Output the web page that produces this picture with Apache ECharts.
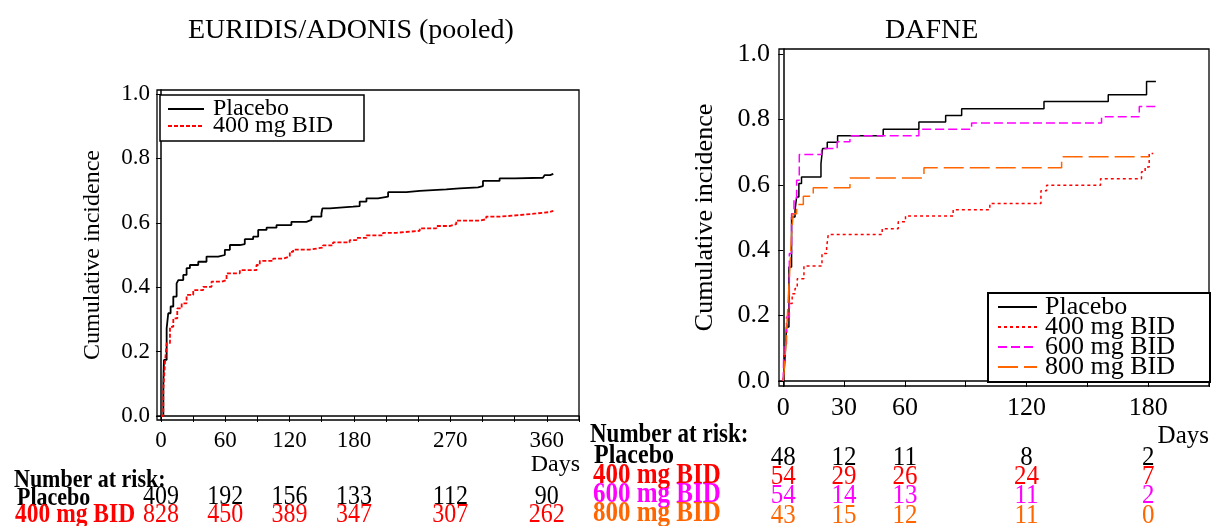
<!DOCTYPE html>
<html><head><meta charset="utf-8">
<script src="https://cdn.jsdelivr.net/npm/echarts@6/dist/echarts.min.js"></script>
<style>html,body{margin:0;padding:0;background:#fff}#c{width:1211px;height:526px}</style>
</head><body><div id="c"></div>
<script>
const FONT = '"Liberation Serif", "Times New Roman", serif';
const RED = '#ff0000', MAG = '#ff00ff', ORA = '#ff6600', BLK = '#000000';

// ---------- EURIDIS/ADONIS (pooled) ----------
const euPlaceboT = [0,2.2,2.8,5.3,6.8,9.0,11.5,14.6,16.2,20.8,23.9,27,34.8,42.5,53.4,59.6,64.3,73.6,78.2,86,90.7,98.5,107.8,121.7,135.7,140.4,149.7,150.6,157.5,179.2,185.4,191.7,202.5,211.9,229,241.4,266.2,278.6,295.8,300.4,315.9,329.9,356.3,357.9,363,366];
const euPlaceboV = [0,0.107,0.174,0.272,0.319,0.340,0.371,0.412,0.422,0.438,0.459,0.469,0.479,0.495,0.500,0.516,0.531,0.534,0.549,0.557,0.578,0.585,0.593,0.603,0.609,0.619,0.629,0.645,0.650,0.652,0.666,0.676,0.681,0.695,0.699,0.704,0.707,0.710,0.714,0.730,0.738,0.740,0.741,0.748,0.752,0.752];
const eu400T = [0,2.2,3.7,5.3,8.4,11.5,15.2,19.3,23.9,30.1,39.4,47.2,56.5,61.2,73.6,89.1,92.2,104.7,114,120.2,123.3,138.8,151.2,160.5,176,182.3,191.7,207.2,219.6,241.4,256.9,269.3,275.5,297.2,303.4,315.9,334.5,350,362,366];
const eu400V = [0,0.081,0.164,0.226,0.277,0.303,0.334,0.350,0.376,0.391,0.401,0.417,0.422,0.443,0.453,0.469,0.482,0.489,0.495,0.510,0.517,0.523,0.530,0.539,0.546,0.553,0.561,0.569,0.575,0.583,0.590,0.596,0.607,0.611,0.619,0.624,0.629,0.633,0.637,0.637];
const euTickDays = [0,30,60,90,120,150,180,210,240,270,300,330,360,390];
const euLabelDays = [0,60,120,180,270,360];
const euRiskDays = [0,60,120,180,270,360];
const euRiskPlacebo = [409,192,156,133,112,90];
const euRisk400 = [828,450,389,347,307,262];

// ---------- DAFNE ----------
const daPlaceboT = [0,0.8,1.6,2.8,4.1,5.8,6.6,7.7,9.0,18.6,19.4,21.7,26.8,49.3,66.9,80.1,88,128.6,160.3,179.2,183.8];
const daPlaceboV = [0,0.063,0.165,0.349,0.502,0.522,0.563,0.604,0.624,0.665,0.711,0.730,0.750,0.770,0.792,0.812,0.833,0.855,0.876,0.916,0.916];
const da400T = [0,0.8,1.6,2.5,3.3,4.4,5.8,6.9,10.2,19.1,21.4,22.2,48.8,56.7,60.3,83.8,101.9,127.1,129.9,156.5,176.7,178.5,180.5,182.5];
const da400V = [0,0.084,0.145,0.206,0.237,0.267,0.283,0.313,0.352,0.390,0.410,0.448,0.466,0.487,0.505,0.524,0.543,0.582,0.599,0.619,0.640,0.655,0.696,0.696];
const da600T = [0,0.3,1.6,3.0,4.1,5.3,6.6,7.9,18.9,26.6,32.9,66.9,92.9,157,175.6,183.8];
const da600V = [0,0.114,0.196,0.390,0.512,0.558,0.614,0.693,0.711,0.732,0.750,0.770,0.789,0.808,0.840,0.840];
const da800T = [0,0.8,1.6,2.5,3.3,4.1,4.9,6.6,9.9,14.8,32.9,69.4,137.3,180.5];
const da800V = [0,0.06,0.145,0.257,0.349,0.451,0.512,0.540,0.565,0.591,0.621,0.652,0.686,0.686];
const daTickDays = [0,30,60,90,120,150,180,210];
const daLabelDays = [0,30,60,120,180];
const daRiskDays = [0,30,60,120,180];
const daRiskPlacebo = [48,12,11,8,2];
const daRisk400 = [54,29,26,24,7];
const daRisk600 = [54,14,13,11,2];
const daRisk800 = [43,15,12,11,0];

const yTicks = [0,0.2,0.4,0.6,0.8,1.0];
const zip = (t, v) => t.map((x, i) => [x, v[i]]);

function xAxisCfg(gridIndex, min, max, ticks, labels, fs, margin) {
  return {
    type: 'value', gridIndex, min, max,
    axisLine: { show: true, lineStyle: { color: BLK, width: 1.5 } },
    axisTick: { show: true, length: 6, customValues: ticks, lineStyle: { color: BLK, width: 1 } },
    axisLabel: { show: true, customValues: labels, color: BLK, fontFamily: FONT, fontSize: fs, margin,
                 formatter: v => String(Math.round(v)) },
    splitLine: { show: false }
  };
}
function yAxisCfg(gridIndex, min, max, fs, margin, nameFs, nameGap) {
  return {
    type: 'value', gridIndex, min, max,
    name: 'Cumulative incidence', nameLocation: 'middle', nameRotate: 90, nameGap,
    nameTextStyle: { color: BLK, fontFamily: FONT, fontSize: nameFs },
    axisLine: { show: true, lineStyle: { color: BLK, width: 1.5 } },
    axisTick: { show: true, length: 5, customValues: yTicks, lineStyle: { color: BLK, width: 1 } },
    axisLabel: { show: true, customValues: yTicks, color: BLK, fontFamily: FONT, fontSize: fs, margin,
                 formatter: v => v.toFixed(1) },
    splitLine: { show: false }
  };
}
function lineSeries(name, xi, data, color, width, type) {
  return {
    name, type: 'line', xAxisIndex: xi, yAxisIndex: xi, data, step: 'end',
    symbol: 'none', showSymbol: false, animation: false, silent: true,
    lineStyle: { color, width, type }, itemStyle: { color }
  };
}
const legendItemStyle = { color: 'transparent', borderColor: 'transparent', borderWidth: 0 };

const chart = echarts.init(document.getElementById('c'), null, { renderer: 'canvas' });
const option = {
  backgroundColor: '#ffffff',
  animation: false,
  title: [
    { text: 'EURIDIS/ADONIS (pooled)', left: 188, top: 17, padding: 0,
      textStyle: { fontFamily: FONT, fontSize: 28, fontWeight: 'normal', color: BLK } },
    { text: 'DAFNE', left: 885, top: 17, padding: 0,
      textStyle: { fontFamily: FONT, fontSize: 28, fontWeight: 'normal', color: BLK } }
  ],
  grid: [
    { left: 157, top: 90, width: 422, height: 330, show: true, borderColor: BLK, borderWidth: 1.3,
      backgroundColor: 'transparent', containLabel: false, outerBoundsMode: 'none' },
    { left: 779, top: 49, width: 430, height: 337, show: true, borderColor: BLK, borderWidth: 1.3,
      backgroundColor: 'transparent', containLabel: false, outerBoundsMode: 'none' }
  ],
  xAxis: [
    xAxisCfg(0, -3.7, 390, euTickDays, euLabelDays, 23, 9),
    xAxisCfg(1, -2.1, 210, daTickDays, daLabelDays, 26, 9)
  ],
  yAxis: [
    yAxisCfg(0, -0.0125, 1.0125, 23, 7, 24, 52),
    yAxisCfg(1, -0.0153, 1.0156, 26, 9, 26, 61)
  ],
  legend: [
    { show: true, orient: 'vertical', left: 160, top: 95, padding: [2, 31, 3, 7],
      borderColor: BLK, borderWidth: 1.5, backgroundColor: '#fff',
      itemWidth: 36, itemHeight: 12, itemGap: -7, selectedMode: false,
      itemStyle: legendItemStyle,
      data: ['Placebo', '400 mg BID'],
      textStyle: { fontFamily: FONT, fontSize: 24, color: BLK, padding: [0,0,0,4] } },
    { show: true, orient: 'vertical', left: 988, top: 293, padding: [1, 35, 2, 9],
      borderColor: BLK, borderWidth: 2, backgroundColor: '#fff',
      itemWidth: 39, itemHeight: 12, itemGap: -6, selectedMode: false,
      itemStyle: legendItemStyle,
      data: ['D Placebo', 'D 400 mg BID', 'D 600 mg BID', 'D 800 mg BID'],
      formatter: n => n.replace(/^D /, ''),
      textStyle: { fontFamily: FONT, fontSize: 26, color: BLK, padding: [0,0,0,3] } }
  ],
  series: [
    lineSeries('Placebo', 0, zip(euPlaceboT, euPlaceboV), BLK, 1.8, 'solid'),
    lineSeries('400 mg BID', 0, zip(eu400T, eu400V), RED, 1.8, [4, 2]),
    lineSeries('D Placebo', 1, zip(daPlaceboT, daPlaceboV), BLK, 1.5, 'solid'),
    lineSeries('D 400 mg BID', 1, zip(da400T, da400V), RED, 1.5, [3, 3]),
    lineSeries('D 600 mg BID', 1, zip(da600T, da600V), MAG, 1.5, [9, 4]),
    lineSeries('D 800 mg BID', 1, zip(da800T, da800V), ORA, 1.5, [20, 6])
  ]
};
chart.setOption(option);

// ---------- texts below axes: number at risk ----------
const g = [];
function txt(x, y, text, color, size, bold, align, sy) {
  g.push({ type: 'text', x, y, silent: true, scaleY: sy || 1,
    style: { text, fill: color, font: (bold ? 'bold ' : '') + size + 'px ' + FONT,
             align: align || 'left', verticalAlign: 'middle' } });
}
const SY = 1.15;
// left panel
txt(580, 465, 'Days', BLK, 24, false, 'right');
txt(14, 480, 'Number at risk:', BLK, 22, true, 'left', SY);
txt(17, 498, 'Placebo', BLK, 22, true, 'left', SY);
txt(15, 515, '400 mg BID', RED, 23.5, true, 'left', SY);
euRiskDays.forEach((d, i) => {
  const x = chart.convertToPixel({ xAxisIndex: 0 }, d);
  txt(x, 497, String(euRiskPlacebo[i]), BLK, 24, false, 'center', 1.1);
  txt(x, 515, String(euRisk400[i]), RED, 24, false, 'center', 1.1);
});
// right panel
txt(1209, 436, 'Days', BLK, 25, false, 'right');
txt(590, 435.5, 'Number at risk:', BLK, 23, true, 'left', SY);
txt(594, 455.5, 'Placebo', BLK, 24, true, 'left', SY);
txt(593, 475.5, '400 mg BID', RED, 25, true, 'left', SY);
txt(593, 494.5, '600 mg BID', MAG, 25, true, 'left', SY);
txt(593, 514, '800 mg BID', ORA, 25, true, 'left', SY);
daRiskDays.forEach((d, i) => {
  const x = chart.convertToPixel({ xAxisIndex: 1 }, d);
  txt(x, 458, String(daRiskPlacebo[i]), BLK, 25, false, 'center', 1.1);
  txt(x, 476.5, String(daRisk400[i]), RED, 25, false, 'center', 1.1);
  txt(x, 496, String(daRisk600[i]), MAG, 25, false, 'center', 1.1);
  txt(x, 515.5, String(daRisk800[i]), ORA, 25, false, 'center', 1.1);
});
chart.setOption({ graphic: g });
</script></body></html>
